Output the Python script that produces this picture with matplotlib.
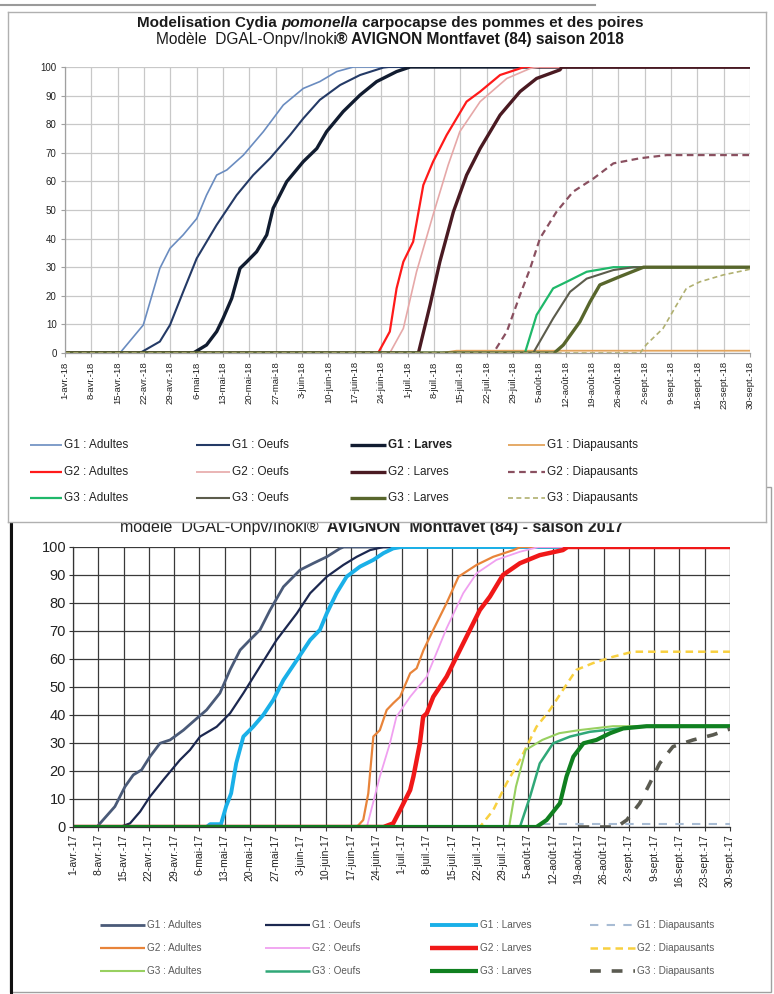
import matplotlib
matplotlib.use("Agg")
import matplotlib.pyplot as plt
from matplotlib.lines import Line2D
from matplotlib.patches import Rectangle

W, H = 774, 994
plt.rcParams['font.family'] = ['Liberation Sans', 'DejaVu Sans']

# ---------------- tick labels (weekly, day 0 = 1 April) ----------------
tick_days = [0, 7, 14, 21, 28, 35, 42, 49, 56, 63, 70, 77, 84, 91, 98, 105,
             112, 119, 126, 133, 140, 147, 154, 161, 168, 175, 182]
labels_2018 = ["1-avr.-18", "8-avr.-18", "15-avr.-18", "22-avr.-18", "29-avr.-18",
               "6-mai-18", "13-mai-18", "20-mai-18", "27-mai-18", "3-juin-18",
               "10-juin-18", "17-juin-18", "24-juin-18", "1-juil.-18", "8-juil.-18",
               "15-juil.-18", "22-juil.-18", "29-juil.-18", "5-août-18", "12-août-18",
               "19-août-18", "26-août-18", "2-sept.-18", "9-sept.-18", "16-sept.-18",
               "23-sept.-18", "30-sept.-18"]
labels_2017 = ["1-avr.-17", "8-avr.-17", "15-avr.-17", "22-avr.-17", "29-avr.-17",
               "6-mai-17", "13-mai-17", "20-mai-17", "27-mai-17", "3-juin-17",
               "10-juin-17", "17-juin-17", "24-juin-17", "1-juil.-17", "8-juil.-17",
               "15-juil.-17", "22-juil.-17", "29-juil.-17", "5-août-17", "12-août-17",
               "19-août-17", "26-août-17", "2-sept.-17", "9-sept.-17", "16-sept.-17",
               "23-sept.-17", "30-sept.-17"]
y_ticks = [0, 10, 20, 30, 40, 50, 60, 70, 80, 90, 100]

series_names = ["G1 : Adultes", "G1 : Oeufs", "G1 : Larves", "G1 : Diapausants",
                "G2 : Adultes", "G2 : Oeufs", "G2 : Larves", "G2 : Diapausants",
                "G3 : Adultes", "G3 : Oeufs", "G3 : Larves", "G3 : Diapausants"]

# ---------------- 2018 data (days since 1 April, % cumulated) ----------------
d18_g1_adultes = [0, 14.6, 20.8, 22.6, 25.2, 27.9, 31.4, 35, 37.6, 40.3, 43, 47.4, 52.7, 58, 63.3, 67.7, 72.2, 76.6, 182]
v18_g1_adultes = [0, 0, 9.8, 17.9, 29.6, 36.6, 41.3, 47, 55.2, 62.2, 64, 69.2, 77.4, 86.7, 92.5, 94.9, 98.4, 100, 100]
d18_g1_oeufs = [0, 19.9, 25.2, 27.9, 31.4, 35, 40.3, 45.6, 50, 54.5, 59.8, 63.3, 67.7, 73.1, 78.4, 84.6, 86, 182]
v18_g1_oeufs = [0, 0, 4, 9.8, 21.4, 33.1, 44.8, 55.2, 62.2, 68.1, 76.2, 82, 88.5, 93.7, 97.2, 99.8, 100, 100]
d18_g1_larves = [0, 34.1, 37.6, 40.3, 42, 44.3, 46.5, 48.3, 50.9, 53.6, 55.3, 58.9, 63.3, 66.9, 69.5, 73.9, 78.4, 82.8, 88.1, 91.7, 182]
v18_g1_larves = [0, 0, 2.8, 7.5, 12.1, 19.1, 29.6, 31.9, 35.4, 41.3, 50.6, 59.9, 66.9, 71.5, 77.4, 84.4, 90.2, 94.9, 98.4, 100, 100]
d18_g1_diap = [0, 100, 104, 182]
v18_g1_diap = [0, 0, 0.8, 0.8]
d18_g2_adultes = [0, 83.2, 86.3, 88.1, 89.9, 92.5, 95.2, 97.8, 101.4, 106.7, 110.3, 115.6, 120.9, 122, 182]
v18_g2_adultes = [0, 0, 7.5, 22.6, 31.9, 38.9, 58.7, 66.9, 76.2, 87.9, 91.4, 97.2, 99.5, 100, 100]
d18_g2_oeufs = [0, 86.3, 89.9, 93.4, 97.8, 101.8, 104.9, 110.3, 117.4, 123.6, 126, 182]
v18_g2_oeufs = [0, 0, 8.6, 28.4, 48.3, 65.7, 77.4, 87.9, 96, 99.5, 100, 100]
d18_g2_larves = [0, 93.9, 97, 99.6, 103.2, 106.7, 110.3, 115.6, 120.9, 125.3, 131.5, 132, 182]
v18_g2_larves = [0, 0, 16.8, 31.9, 49.4, 62.2, 71.5, 83.2, 91.4, 96, 99, 100, 100]
d18_g2_diap = [0, 113.8, 117.4, 120.9, 123.6, 126.2, 130.6, 135, 140.4, 145.7, 152.8, 159.9, 182]
v18_g2_diap = [0, 0, 7.5, 20.3, 29.6, 40.1, 49.4, 56.4, 61, 66.3, 68.1, 69.2, 69.2]
d18_g3_adultes = [0, 122.2, 125.3, 129.7, 133.3, 138.6, 145.7, 182]
v18_g3_adultes = [0, 0, 13.3, 22.6, 24.9, 28.4, 30, 30]
d18_g3_oeufs = [0, 124.4, 129.7, 134.2, 138.6, 145.7, 151, 182]
v18_g3_oeufs = [0, 0, 12.1, 21.4, 26, 29, 30, 30]
d18_g3_larves = [0, 130, 132.4, 136.8, 139.5, 142.1, 147.4, 153.7, 182]
v18_g3_larves = [0, 0, 2.8, 10.9, 17.9, 23.8, 26.7, 30, 30]
d18_g3_diap = [0, 152.8, 154.5, 158.9, 162.5, 165.1, 168.7, 174.9, 181, 182]
v18_g3_diap = [0, 0, 3, 8.6, 16.8, 22.6, 24.9, 27.3, 29, 29.3]

# ---------------- 2017 data ----------------
d17_g1_adultes = [0, 6.6, 11.6, 14.4, 16.7, 19, 21.3, 24.1, 26.9, 30.6, 34.3, 37, 40.7, 43.5, 46.3, 49, 51.8, 54.6, 58.3, 62.9, 66.6, 70.3, 74, 75, 182]
v17_g1_adultes = [0, 0, 7.3, 14.4, 18.6, 20.4, 25.1, 29.9, 31.1, 34.6, 38.8, 41.8, 47.8, 56.1, 63.2, 66.8, 70.4, 77.5, 85.8, 91.8, 94.2, 96.5, 99.5, 100, 100]
d17_g1_oeufs = [0, 13, 15.8, 18.6, 21.3, 25, 29.6, 32.4, 35.2, 39.8, 43.5, 47.2, 51.8, 56.4, 62, 65.7, 70.3, 74.9, 78.6, 82.3, 86, 182]
v17_g1_oeufs = [0, 0, 1.3, 5.5, 10.8, 16.8, 23.9, 27.5, 32.3, 35.8, 40.6, 47.8, 57.3, 66.8, 76.3, 83.5, 89.4, 93.6, 96.5, 98.9, 100, 100]
d17_g1_larves = [0, 37, 38, 41, 42.4, 43.8, 45.2, 47.2, 49.9, 52.7, 55.5, 58.3, 62, 65.7, 68.4, 70.3, 73, 75.8, 79.5, 83.2, 86, 88.7, 91, 182]
v17_g1_larves = [0, 0, 1, 1, 7.3, 12, 22.7, 32.3, 35.8, 40, 45.4, 52.5, 59.6, 66.8, 70.4, 76.3, 83.5, 89.4, 93, 95.4, 97.8, 99.5, 100, 100]
d17_g1_diap = [130, 182]
v17_g1_diap = [1, 1]
d17_g2_adultes = [0, 78.6, 80.4, 81.8, 83.2, 85, 86.9, 88.7, 90.6, 93.4, 95.2, 97.1, 99.8, 103.5, 106.8, 111.8, 116.4, 122, 124, 182]
v17_g2_adultes = [0, 0, 2.5, 12, 32.3, 34.6, 41.8, 44.2, 46.5, 54.9, 56.7, 63.2, 70.4, 80, 89.4, 93.6, 96.5, 98.9, 100, 100]
d17_g2_oeufs = [0, 81.4, 85, 87.8, 89.6, 93.4, 98, 103.5, 108.1, 111.8, 117.3, 123.8, 129, 182]
v17_g2_oeufs = [0, 0, 18, 29.9, 39.4, 46.5, 53.7, 71, 83.5, 90.6, 95.4, 98.3, 100, 100]
d17_g2_larves = [0, 86, 88.7, 90.6, 93.4, 94.3, 96.1, 97, 98, 99.8, 103.5, 108.1, 112.7, 115.5, 119.1, 123.8, 129.3, 135.7, 137, 182]
v17_g2_larves = [0, 0, 1.3, 6, 13.2, 18, 29.9, 39.4, 40.6, 46.5, 53.7, 65.6, 77.5, 82.3, 90, 94.2, 97.1, 98.9, 100, 100]
d17_g2_diap = [105, 112.7, 116.4, 120.1, 123.8, 128.4, 132.1, 135.7, 139.4, 144, 149.6, 155.1, 182]
v17_g2_diap = [0, 0, 6, 15.6, 23.9, 35.8, 41.8, 48.9, 56.1, 58.5, 60.8, 62.6, 62.6]
d17_g3_adultes = [0, 120.8, 122.7, 125.4, 130, 134.7, 140.2, 149.6, 182]
v17_g3_adultes = [0, 0, 14.4, 27.5, 31.1, 33.5, 34.6, 36, 36]
d17_g3_oeufs = [0, 123.8, 126.6, 129.3, 133, 137.7, 143.2, 151.5, 158, 182]
v17_g3_oeufs = [0, 0, 10.8, 22.7, 29.9, 32.3, 34, 35.2, 36, 36]
d17_g3_larves = [0, 128.4, 131.2, 134.9, 136.7, 138.6, 141.4, 145, 148.8, 152.4, 158.9, 182]
v17_g3_larves = [0, 0, 2.5, 8.5, 18, 25.1, 29.9, 31.1, 33.5, 35.2, 36, 36]
d17_g3_diap = [140, 150.6, 153.4, 157, 159.8, 162.5, 166.2, 171.8, 177.3, 181, 182]
v17_g3_diap = [0, 0, 2.5, 8.5, 15.6, 22.7, 28.7, 31.1, 32.9, 34.6, 35]

data18 = [(d18_g1_adultes, v18_g1_adultes), (d18_g1_oeufs, v18_g1_oeufs), (d18_g1_larves, v18_g1_larves), (d18_g1_diap, v18_g1_diap),
          (d18_g2_adultes, v18_g2_adultes), (d18_g2_oeufs, v18_g2_oeufs), (d18_g2_larves, v18_g2_larves), (d18_g2_diap, v18_g2_diap),
          (d18_g3_adultes, v18_g3_adultes), (d18_g3_oeufs, v18_g3_oeufs), (d18_g3_larves, v18_g3_larves), (d18_g3_diap, v18_g3_diap)]
data17 = [(d17_g1_adultes, v17_g1_adultes), (d17_g1_oeufs, v17_g1_oeufs), (d17_g1_larves, v17_g1_larves), (d17_g1_diap, v17_g1_diap),
          (d17_g2_adultes, v17_g2_adultes), (d17_g2_oeufs, v17_g2_oeufs), (d17_g2_larves, v17_g2_larves), (d17_g2_diap, v17_g2_diap),
          (d17_g3_adultes, v17_g3_adultes), (d17_g3_oeufs, v17_g3_oeufs), (d17_g3_larves, v17_g3_larves), (d17_g3_diap, v17_g3_diap)]

# styles: (color, linewidth, dashes or None)
style18 = [("#6a8cc0", 1.2, None), ("#243a66", 1.5, None), ("#111c30", 2.4, None), ("#e3a45c", 1.3, None),
           ("#ff1a1a", 1.6, None), ("#e6a8a8", 1.2, None), ("#4a1a22", 2.4, None), ("#8a5060", 1.6, (3, 2)),
           ("#1fb86a", 1.6, None), ("#5c5c4c", 1.5, None), ("#58662c", 2.4, None), ("#b0b070", 1.2, (3, 2))]
style17 = [("#4a5a78", 2.0, None), ("#1c2850", 1.6, None), ("#1ab0e8", 2.8, None), ("#a8bcd4", 1.5, (4, 4)),
           ("#e8843a", 1.6, None), ("#f0a0f0", 1.3, None), ("#f01818", 3.2, None), ("#f8d040", 1.8, (3, 2)),
           ("#98d060", 1.5, None), ("#30a878", 1.8, None), ("#108020", 3.0, None), ("#5a5a50", 2.6, (3, 3))]

fig = plt.figure(figsize=(W / 100, H / 100), dpi=100)


def fx(x):
    return x / W


def fy(y):
    return 1 - y / H


def rect(x0, y0, x1, y1):
    return [fx(x0), fy(y1), (x1 - x0) / W, (y1 - y0) / H]


renderer = fig.canvas.get_renderer()


def rich_text(pieces, cx, base_y, fontsize, zorder, color="#1a1a1a"):
    texts, widths = [], []
    for s, weight, style, gap in pieces:
        t = fig.text(0, fy(base_y), s, fontsize=fontsize, fontweight=weight,
                     fontstyle=style, va="baseline", ha="left", zorder=zorder, color=color)
        texts.append(t)
        widths.append(t.get_window_extent(renderer).width)
    space = fontsize * 0.28 * 100 / 72
    total = sum(widths) + sum(space for p in pieces[:-1] if p[3])
    x = cx - total / 2
    for t, w, p in zip(texts, widths, pieces):
        t.set_x(fx(x))
        x += w + (space if p[3] else 0)


def legend_entry(x0, x1, y, label, color, lw, dashes, fontsize, tcolor, weight, zorder):
    ln = Line2D([fx(x0), fx(x1)], [fy(y), fy(y)], transform=fig.transFigure,
                color=color, lw=lw, zorder=zorder, solid_capstyle="butt")
    if dashes:
        ln.set_dashes(dashes)
    fig.add_artist(ln)
    fig.text(fx(x1 + 2), fy(y), label, fontsize=fontsize, color=tcolor,
             fontweight=weight, va="center", ha="left", zorder=zorder)


# ---------------- bottom panel (2017) ----------------
fig.add_artist(Rectangle((fx(10), fy(992)), (771 - 10) / W, (992 - 487) / H,
                         transform=fig.transFigure, facecolor="white",
                         edgecolor="#a0a0a0", lw=1, zorder=0.5))
fig.add_artist(Line2D([fx(11), fx(11)], [fy(487), fy(993)], transform=fig.transFigure,
                      color="#111111", lw=2.2, zorder=0.6))

ax2 = fig.add_axes(rect(73, 547, 730, 827))
ax2.set_zorder(1)
for (d, v), (c, lw, dash) in zip(data17, style17):
    ln, = ax2.plot(d, v, color=c, lw=lw, solid_joinstyle="round")
    if dash:
        ln.set_dashes(dash)
ax2.set_xlim(0, 182)
ax2.set_ylim(0, 100)
ax2.set_xticks(tick_days)
ax2.set_xticklabels(labels_2017, rotation=90, fontsize=7.5, color="#222222")
ax2.set_yticks(y_ticks)
ax2.set_yticklabels([str(v) for v in y_ticks], fontsize=10.5, color="#222222")
ax2.grid(True, color="#3a3a3a", lw=0.9)
ax2.set_axisbelow(True)
ax2.tick_params(length=3, width=0.8, color="#333333", pad=2)
for s in ax2.spines.values():
    s.set_color("#333333")
    s.set_linewidth(0.9)
ax2.spines["top"].set_visible(False)
ax2.spines["right"].set_visible(False)

rich_text([("modèle  DGAL-Onpv/Inoki®", "normal", "normal", True),
           (" AVIGNON  Montfavet (84) - saison 2017", "bold", "normal", False)],
          372, 532, 11.5, 2, color="#222222")

cols17 = [(100, 145), (265, 310), (430, 478), (590, 635)]
rows17 = [925, 948, 971]
for i, name in enumerate(series_names):
    g, k = divmod(i, 4)
    c, lw, dash = style17[i]
    x0, x1 = cols17[k]
    legend_entry(x0, x1, rows17[g], name, c, lw, dash, 7.2, "#5a5a5a", "normal", 2)

# ---------------- top panel (2018) ----------------
fig.add_artist(Line2D([0, fx(595)], [fy(5), fy(5)], transform=fig.transFigure,
                      color="#9a9a9a", lw=1.5, zorder=4))
bg = fig.add_axes(rect(8, 12, 766, 522))
bg.set_zorder(5)
bg.set_xticks([])
bg.set_yticks([])
bg.set_facecolor("white")
for s in bg.spines.values():
    s.set_color("#b0b0b0")
    s.set_linewidth(1)

ax1 = fig.add_axes(rect(65, 67, 750, 353))
ax1.set_zorder(6)
for (d, v), (c, lw, dash) in zip(data18, style18):
    ln, = ax1.plot(d, v, color=c, lw=lw, solid_joinstyle="round")
    if dash:
        ln.set_dashes(dash)
ax1.set_xlim(0, 182)
ax1.set_ylim(0, 100)
ax1.set_xticks(tick_days)
ax1.set_xticklabels(labels_2018, rotation=90, fontsize=6.8, color="#222222")
ax1.set_yticks(y_ticks)
ax1.set_yticklabels([str(v) for v in y_ticks], fontsize=7, color="#222222")
ax1.grid(True, color="#c8c8c8", lw=0.9)
ax1.set_axisbelow(True)
ax1.tick_params(length=3, width=0.8, color="#a0a0a0", pad=3)
for s in ax1.spines.values():
    s.set_color("#a0a0a0")
    s.set_linewidth(0.9)
ax1.spines["top"].set_visible(False)
ax1.spines["right"].set_visible(False)

rich_text([("Modelisation Cydia", "bold", "normal", True),
           ("pomonella", "bold", "italic", True),
           ("carpocapse des pommes et des poires", "bold", "normal", False)],
          390, 27, 11, 7, color="#1a1a1a")
rich_text([("Modèle  DGAL-Onpv/Inoki", "normal", "normal", False),
           ("® AVIGNON Montfavet (84) saison 2018", "bold", "normal", False)],
          390, 44, 11.2, 7, color="#1a1a1a")

cols18 = [(30, 62), (196, 230), (350, 386), (508, 545)]
rows18 = [445, 472, 498]
for i, name in enumerate(series_names):
    g, k = divmod(i, 4)
    c, lw, dash = style18[i]
    x0, x1 = cols18[k]
    weight = "bold" if i == 2 else "normal"
    legend_entry(x0, x1, rows18[g], name, c, lw, dash, 8.5, "#222222", weight, 7)

fig.savefig("out.png", dpi=100)
